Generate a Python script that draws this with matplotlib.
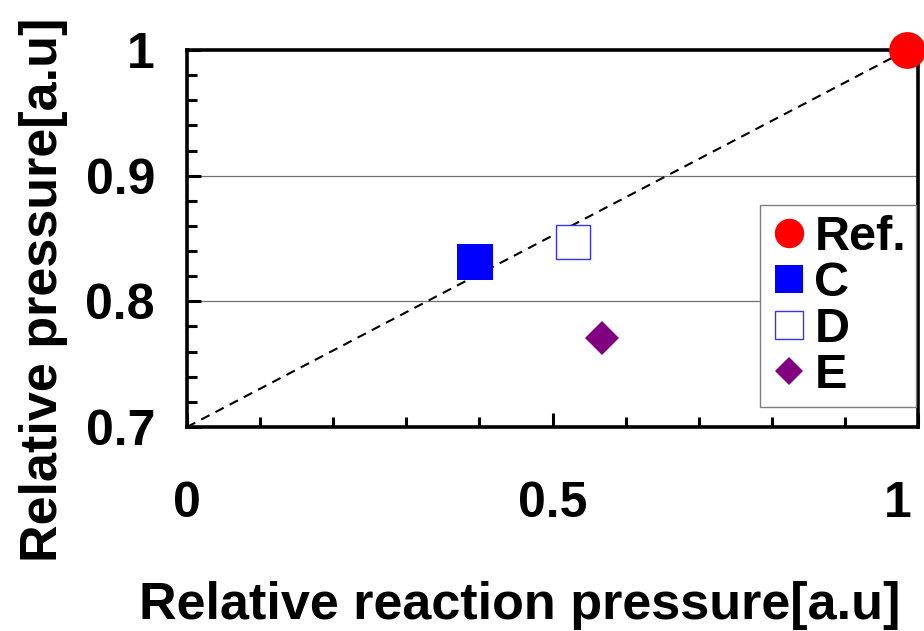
import matplotlib
matplotlib.use("Agg")
import matplotlib.pyplot as plt
import matplotlib.transforms as mtransforms
from matplotlib.ticker import MultipleLocator, FixedLocator

plt.rcParams['font.family'] = ['Liberation Sans', 'DejaVu Sans']
plt.rcParams['font.weight'] = 'bold'

# ---- data ----
series = ["Ref.", "C", "D", "E"]
x_vals = [0.985, 0.394, 0.528, 0.568]
y_vals = [1.000, 0.831, 0.8475, 0.771]
line_start = (0.0, 0.7)          # dashed reference line start
x_ticks = [0, 0.5, 1]
x_tick_labels = ["0", "0.5", "1"]
y_ticks = [0.7, 0.8, 0.9, 1.0]
y_tick_labels = ["0.7", "0.8", "0.9", "1"]
x_label = "Relative reaction pressure[a.u]"
y_label = "Relative pressure[a.u]"

# ---- styles ----
styles = {
    "Ref.": dict(marker='o', ms=26.5, mfc='#ff0000', mec='#ff0000', mew=0),
    "C":    dict(marker='s', ms=25.5, mfc='#0000ff', mec='#0000ff', mew=0),
    "D":    dict(marker='s', ms=24.5, mfc='white', mec='#3333ff', mew=1.0),
    "E":    dict(marker='D', ms=17.5, mfc='#800080', mec='#800080', mew=0),
}

fig = plt.figure(figsize=(9.24, 6.31), dpi=100)
ax = fig.add_axes([187/924, 1-427/631, (918-187)/924, (427-50)/631])

ax.set_xlim(0, 1)
ax.set_ylim(0.7, 1.0)

# dashed line from start to reference point
ax.plot([line_start[0], x_vals[0]], [line_start[1], y_vals[0]],
        color='black', lw=1.5, ls=(0, (4.5, 3.2)), zorder=3)

for name, xv, yv in zip(series, x_vals, y_vals):
    ax.plot([xv], [yv], ls='none', label=name, clip_on=False, zorder=5,
            **styles[name])

# grid
ax.yaxis.grid(True, which='major', color='#707070', lw=0.9)
ax.set_axisbelow(True)

# ticks
ax.xaxis.set_major_locator(FixedLocator(x_ticks))
ax.set_xticklabels(x_tick_labels)
ax.xaxis.set_minor_locator(MultipleLocator(0.1))
ax.yaxis.set_major_locator(FixedLocator(y_ticks))
ax.set_yticklabels(y_tick_labels)
ax.yaxis.set_minor_locator(MultipleLocator(0.02))
ax.tick_params(which='major', direction='in', length=10, width=2.2,
               labelsize=36, top=False, right=False)
ax.tick_params(which='minor', direction='in', length=7, width=2.2,
               top=False, right=False)
ax.tick_params(axis='x', which='major', pad=39)
ax.tick_params(axis='y', which='major', pad=23)
for lab in ax.get_xticklabels() + ax.get_yticklabels():
    lab.set_fontweight('bold')

# shift last x tick label left, as in the reference
last = ax.get_xticklabels()[-1]
last.set_transform(last.get_transform() +
                   mtransforms.ScaledTranslation(-20/100, 0, fig.dpi_scale_trans))

for sp in ax.spines.values():
    sp.set_linewidth(2.6)
    sp.set_color('black')

# axis labels
fig.text(520/924, 1-619/631, x_label, ha='center', va='baseline',
         fontsize=37.5, fontweight='bold')
fig.text(44/924, 1-290/631, y_label, ha='center', va='center',
         rotation=90, fontsize=37.5, fontweight='bold')

leg = ax.legend(loc='upper right', bbox_to_anchor=(0.997, 0.589),
                borderaxespad=0, fontsize=35, markerscale=0.8,
                handlelength=0.8, handletextpad=0.12, labelspacing=0.02,
                borderpad=0.2, frameon=True, fancybox=False, framealpha=1,
                edgecolor='#7f7f7f')
leg.get_frame().set_linewidth(1.0)
for t in leg.get_texts():
    t.set_fontweight('bold')
leg.set_zorder(6)

fig.savefig("out.png", dpi=100)
